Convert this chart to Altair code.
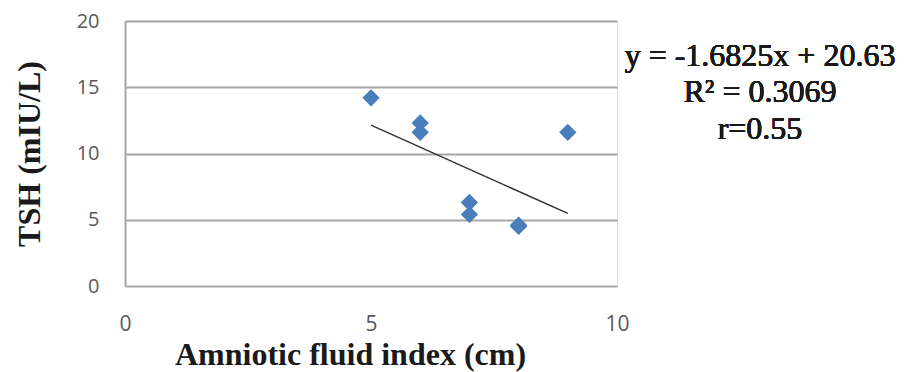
import altair as alt
import pandas as pd

# Data
afi = [5, 6, 6, 7, 7, 8, 8, 9]
tsh = [14.2, 12.3, 11.6, 6.3, 5.4, 4.6, 4.5, 11.6]
x_ticks = [0, 5, 10]
y_ticks = [0, 5, 10, 15, 20]
annotation = ["y = -1.6825x + 20.63", "R\u00b2 = 0.3069", "r=0.55"]

df = pd.DataFrame({"afi": afi, "tsh": tsh})

W, H = 492, 265

x_enc = alt.X(
    "afi:Q",
    scale=alt.Scale(domain=[0, 10], nice=False),
    axis=alt.Axis(
        values=x_ticks, title="Amniotic fluid index (cm)", grid=False,
        domain=False, ticks=False, labelPadding=27, labelFontSize=21,
        labelFont="Open Sans", labelColor="#595959", labelFlush=False,
        titleFont="Liberation Serif", titleFontSize=32, titleFontWeight="bold",
        titleColor="#1a1a1a", titlePadding=5, titleX=225,
    ),
)
y_enc = alt.Y(
    "tsh:Q",
    scale=alt.Scale(domain=[0, 20], nice=False),
    axis=alt.Axis(
        values=y_ticks, title="TSH (mIU/L)", grid=True, gridColor="#a6a6a6",
        gridWidth=2, domain=True, domainColor="#a6a6a6", domainWidth=2,
        ticks=False, labelPadding=26, labelFontSize=20, labelFont="Open Sans",
        labelColor="#595959", labelFlush=False,
        titleFont="Liberation Serif", titleFontSize=32, titleFontWeight="bold",
        titleColor="#1a1a1a", titlePadding=30,
    ),
)

points = alt.Chart(df).mark_point(
    shape="diamond", filled=True, size=300, color="#4a7ebb", opacity=1
).encode(x=x_enc, y=y_enc)

trend = alt.Chart(df).transform_regression(
    "afi", "tsh", method="linear", extent=[5, 9]
).mark_line(color="#333333", strokeWidth=1.5).encode(x="afi:Q", y="tsh:Q")

row_y = [35, 71, 108]
texts = [
    alt.Chart(df).mark_text(
        font="Liberation Serif", fontSize=32, color="#1a1a1a", align="center",
        baseline="middle",
    ).encode(x=alt.value(635), y=alt.value(yy), text=alt.value(t))
    for t, yy in zip(annotation, row_y)
]

chart = (
    alt.layer(trend, points, *texts)
    .properties(
        width=W, height=H,
        autosize=alt.AutoSizeParams(type="none"),
        padding={"left": 117, "top": 13, "right": 282, "bottom": 86},
    )
    .configure_view(stroke=None)
    .configure(background="white")
)

chart.save("out.html", embed_options={"renderer": "svg", "actions": False})
